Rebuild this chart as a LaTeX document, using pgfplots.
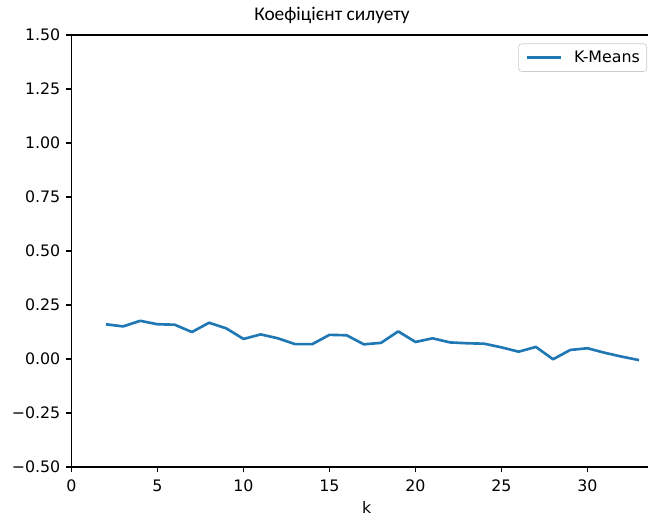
\documentclass[border=0pt]{standalone}
\usepackage{fontspec}
\setmainfont{DejaVu Sans}
\newfontfamily\titlefont{Carlito}
\usepackage{pgfplots}
\pgfplotsset{compat=1.18}
\definecolor{c0}{HTML}{1F77B4}
\begin{document}
\begin{tikzpicture}
\begin{axis}[
 name=ax, at={(0,0)}, anchor=south west,
 scale only axis, width=371.8pt, height=278.6pt,
 xmin=0, xmax=33.52, ymin=-0.5, ymax=1.5,
 xtick={0,5,...,30},
 ytick={-0.5,-0.25,0,0.25,0.5,0.75,1,1.25,1.5},
 yticklabels={−0.50,−0.25,0.00,0.25,0.50,0.75,1.00,1.25,1.50},
 tick pos=left, tick align=outside, major tick length=3.5pt,
 tick style={black, line width=0.8pt},
 axis line style={draw=none},
 ticklabel style={font=\fontsize{10.2}{12}\selectfont},
 /pgf/number format/assume math mode=true,
 xticklabel style={inner sep=0pt, yshift=-4.8pt},
 yticklabel style={inner sep=0pt, xshift=-3.5pt},
 xlabel={k},
 xlabel style={font=\fontsize{10.2}{12}\selectfont, at={(axis description cs:0.512,0)}, anchor=north, inner sep=0pt, yshift=-22pt},
 legend style={at={(rel axis cs:0.9984,0.9806)}, anchor=north east,
   draw=black!20, rounded corners=2pt, inner xsep=4.5pt, inner ysep=4.5pt,
   font=\fontsize{10.2}{12}\selectfont, column sep=7.5pt,
   nodes={inner sep=0pt}},
 legend image code/.code={\draw[#1] (0pt,0pt) -- (22pt,0pt);},
]
\addplot[color=c0, line width=1.7pt, line join=round] coordinates {
(2,0.161) (3,0.151) (4,0.177) (5,0.161) (6,0.159) (7,0.125) (8,0.168)
(9,0.142) (10,0.093) (11,0.114) (12,0.096) (13,0.069) (14,0.069)
(15,0.112) (16,0.110) (17,0.068) (18,0.075) (19,0.128) (20,0.079)
(21,0.096) (22,0.077) (23,0.073) (24,0.071) (25,0.054) (26,0.034)
(27,0.056) (28,-0.001) (29,0.042) (30,0.050) (31,0.029) (32,0.011)
(33,-0.005)
};
\addlegendentry{K-Means}
\end{axis}
\draw[line width=0.8pt] (ax.south east) -- (ax.south west) -- (ax.north west) -- (ax.north east);
\node[font=\titlefont\fontsize{12.5}{14}\selectfont, anchor=base] at (168pt,287.9pt) {Коефіцієнт силуету};
\pgfresetboundingbox
\path[use as bounding box] (-46.1pt,-32.25pt) rectangle (371.8pt,301.2pt);
\end{tikzpicture}
\end{document}
